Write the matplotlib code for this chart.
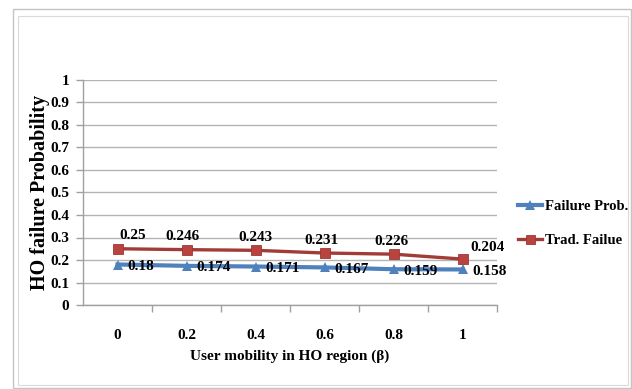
import matplotlib
matplotlib.use("Agg")
import matplotlib.pyplot as plt
from matplotlib.patches import Rectangle

categories = ["0", "0.2", "0.4", "0.6", "0.8", "1"]
failure_prob = [0.18, 0.174, 0.171, 0.167, 0.159, 0.158]
trad_failure = [0.25, 0.246, 0.243, 0.231, 0.226, 0.204]
y_ticks = [0, 0.1, 0.2, 0.3, 0.4, 0.5, 0.6, 0.7, 0.8, 0.9, 1]

# data label nudges for the red series (pixels, relative to the marker)
trad_label_dx = [15, -4, 0, -3, -2, 25]
trad_label_dy = [13, 13, 13, 13, 13, 12]

W, H = 632, 389
fig = plt.figure(figsize=(W / 100, H / 100), dpi=100)
fig.patch.set_facecolor("white")

FAM = ["Liberation Serif", "DejaVu Serif"]
font = dict(family=FAM, weight="bold")
FS = 10.5

# double frame around the chart
fig.add_artist(Rectangle((13 / W, 1 - 388 / H), (631 - 13) / W, (388 - 9) / H,
                         transform=fig.transFigure, fill=False,
                         edgecolor="#c4c4c4", lw=1.0))
fig.add_artist(Rectangle((18 / W, 1 - 385 / H), (628 - 18) / W, (385 - 16) / H,
                         transform=fig.transFigure, fill=False,
                         edgecolor="#dadada", lw=0.8))

ax = fig.add_axes([83 / W, 1 - 305 / H, (497 - 83) / W, (305 - 80) / H])
x = list(range(len(categories)))

ax.plot(x, failure_prob, color="#4F81BD", lw=3.0, marker="^", ms=7.5,
        markeredgewidth=0, label="Failure Prob.", zorder=3)
ax.plot(x, trad_failure, color="#A23C38", lw=2.4, marker="s", ms=7.2,
        markerfacecolor="#B8433F", markeredgecolor="#9C3834", markeredgewidth=0.6,
        label="Trad. Failue", zorder=3)

ax.set_xlim(-0.5, len(categories) - 0.5)
ax.set_ylim(0, 1)
ax.set_yticks(y_ticks)
ax.set_yticklabels([f"{v:g}" for v in y_ticks], fontsize=FS + 0.5, **font)
ax.yaxis.grid(True, color="#b4b4b4", lw=1.0)
ax.set_axisbelow(True)

# category labels centred, tick marks between categories
ax.set_xticks(x)
ax.set_xticklabels(categories, fontsize=FS + 0.5, **font)
ax.tick_params(axis="x", length=0, pad=17)
ax.set_xticks([i + 0.5 for i in x], minor=True)
ax.tick_params(axis="x", which="minor", length=5, width=1.0, color="#a0a0a0",
               direction="out")
ax.tick_params(axis="y", length=5, width=1.0, color="#a0a0a0", direction="out",
               pad=5)

for s in ["top", "right"]:
    ax.spines[s].set_visible(False)
for s in ["left", "bottom"]:
    ax.spines[s].set_color("#a0a0a0")
    ax.spines[s].set_linewidth(1.0)

# data labels
for i, v in enumerate(failure_prob):
    ax.annotate(f"{v:g}", (i, v), xytext=(10, -2), textcoords="offset pixels",
                ha="left", va="center", fontsize=FS + 0.5, **font)
for i, v in enumerate(trad_failure):
    ax.annotate(f"{v:g}", (i, v), xytext=(trad_label_dx[i], trad_label_dy[i]),
                textcoords="offset pixels", ha="center", va="center",
                fontsize=FS + 0.5, **font)

ax.set_xlabel("User mobility in HO region (β)", fontsize=FS + 0.5, labelpad=6, **font)
ax.set_ylabel("HO failure Probability", fontsize=14.5, labelpad=0, **font)

leg = ax.legend(loc="center left", bbox_to_anchor=(511 / W, 1 - 223.5 / H),
                bbox_transform=fig.transFigure, frameon=False, borderpad=0,
                prop=dict(size=FS, family=FAM, weight="bold"),
                handlelength=1.65, handletextpad=0.15, labelspacing=1.4,
                markerscale=0.9)

fig.savefig("out.png", dpi=100)
